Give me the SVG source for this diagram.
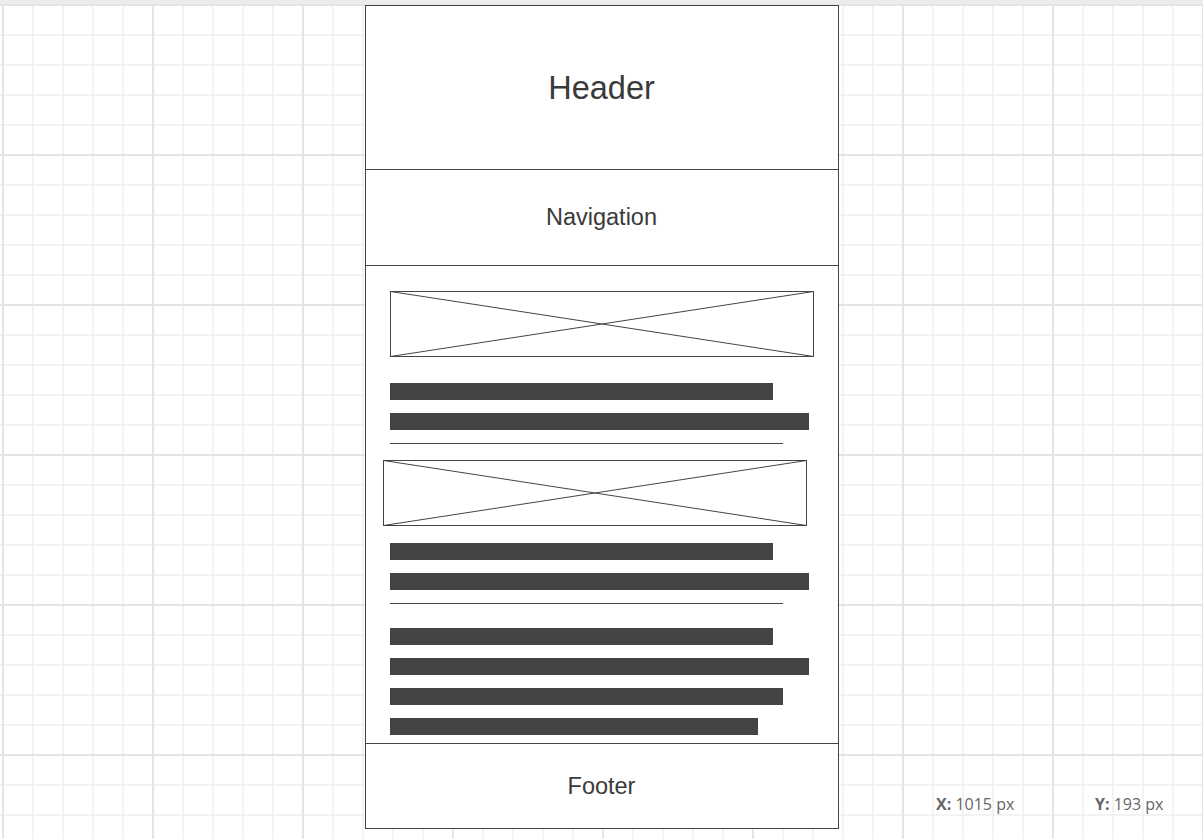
<svg xmlns="http://www.w3.org/2000/svg" width="1203" height="839" viewBox="0 0 1203 839">
<defs>
<pattern id="minor" patternUnits="userSpaceOnUse" x="-12" y="-10" width="30" height="30">
<path d="M0 15 H30 M15 0 V30" stroke="#f0f0f0" stroke-width="1.5" fill="none"/>
</pattern>
<pattern id="major" patternUnits="userSpaceOnUse" x="-72" y="-70" width="150" height="150">
<path d="M0 75 H150 M75 0 V150" stroke="#e4e4e4" stroke-width="2" fill="none"/>
</pattern>
</defs>
<style>
.frame{fill:#ffffff;stroke:#444444;stroke-width:1}
.div{stroke:#444444;stroke-width:1;fill:none}
.img{fill:#ffffff;stroke:#444444;stroke-width:1}
.bar{fill:#444444}
.lbl{font-family:"Liberation Sans",Arial,sans-serif;fill:#3a3a3a;text-anchor:middle}
.coord{font-family:"Open Sans","Noto Sans",sans-serif;font-size:16px;fill:#666666}
</style>
<rect x="0" y="0" width="1203" height="839" fill="#ffffff"/>
<rect x="0" y="0" width="1203" height="839" fill="url(#minor)"/>
<rect x="0" y="0" width="1203" height="839" fill="url(#major)"/>
<rect x="0" y="0" width="1203" height="5" fill="#ececec"/>
<line x1="0" y1="5" x2="1203" y2="5" stroke="#e0e0e0" stroke-width="1"/>

<g id="page">
<rect class="frame" x="365.5" y="5.5" width="473" height="823"/>
</g>
<g id="header">
<text class="lbl" x="601.5" y="98.5" font-size="32.5">Header</text>
<line class="div" x1="365.5" y1="169.5" x2="838.5" y2="169.5"/>
</g>
<g id="navigation">
<text class="lbl" x="601.5" y="225" font-size="23.5">Navigation</text>
<line class="div" x1="365.5" y1="265.5" x2="838.5" y2="265.5"/>
</g>
<g id="image1">
<rect class="img" x="390.5" y="291.5" width="423" height="65"/>
<path class="div" d="M390.5 291.5 L813.5 356.5 M390.5 356.5 L813.5 291.5"/>
</g>
<g id="text1">
<rect class="bar" x="390" y="383" width="383" height="17"/>
<rect class="bar" x="390" y="413" width="419" height="17"/>
<line class="div" x1="390" y1="443.5" x2="783" y2="443.5"/>
</g>
<g id="image2">
<rect class="img" x="383.5" y="460.5" width="423" height="65"/>
<path class="div" d="M383.5 460.5 L806.5 525.5 M383.5 525.5 L806.5 460.5"/>
</g>
<g id="text2">
<rect class="bar" x="390" y="543" width="383" height="17"/>
<rect class="bar" x="390" y="573" width="419" height="17"/>
<line class="div" x1="390" y1="603.5" x2="783" y2="603.5"/>
</g>
<g id="text3">
<rect class="bar" x="390" y="628" width="383" height="17"/>
<rect class="bar" x="390" y="658" width="419" height="17"/>
<rect class="bar" x="390" y="688" width="393" height="17"/>
<rect class="bar" x="390" y="718" width="368" height="17"/>
</g>
<g id="footer">
<line class="div" x1="365.5" y1="743.5" x2="838.5" y2="743.5"/>
<text class="lbl" x="601.5" y="794" font-size="23.5">Footer</text>
</g>
<g id="coords">
<text class="coord" x="936" y="810"><tspan font-weight="bold">X:</tspan> 1015 px</text>
<text class="coord" x="1095" y="810"><tspan font-weight="bold">Y:</tspan> 193 px</text>
</g>
</svg>
